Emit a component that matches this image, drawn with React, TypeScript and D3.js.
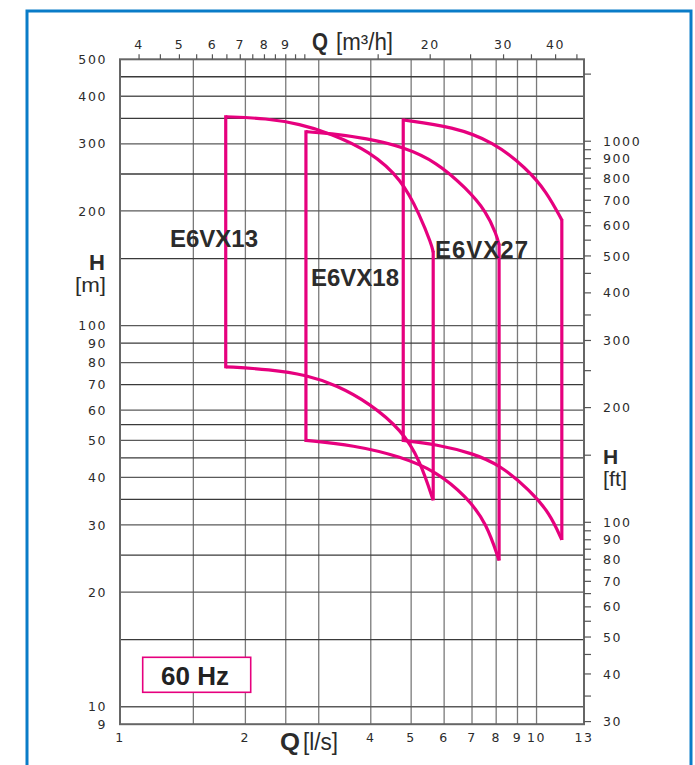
import React from "react";
import * as d3 from "d3";

// ---- Axis data ----
const qGrid = [1.5, 2, 2.5, 3, 4, 5, 6, 7, 8, 9, 10];
const qLabels = [1, 2, 4, 5, 6, 7, 8, 9, 10, 13];
const hGrid = [450, 400, 350, 300, 250, 200, 150, 100, 90, 80, 70, 60, 55, 50, 45, 40, 35, 30, 25, 20, 15, 10];
const hLabels = [500, 400, 300, 200, 100, 90, 80, 70, 60, 50, 40, 30, 20, 10, 9];
const m3hTicks = [4, 4.5, 5, 5.5, 6, 6.5, 7, 7.5, 8, 8.5, 9, 9.5, 10, 15, 20, 25, 30, 35, 40, 45];
const m3hLabels = [4, 5, 6, 7, 8, 9, 20, 30, 40];
const ftTicks = [30, 35, 40, 45, 50, 55, 60, 65, 70, 75, 80, 85, 90, 95, 100, 150, 200, 250, 300, 350, 400, 450, 500, 550, 600, 650, 700, 750, 800, 850, 900, 950, 1000, 1500];
const ftLabels = [30, 40, 50, 60, 70, 80, 90, 100, 200, 300, 400, 500, 600, 700, 800, 900, 1000];

// ---- Pump curves: [Q l/s, H m] ----
const e6vx13Top: [number, number][] = [[1.794, 353.4], [2.249, 350], [2.704, 338], [3.191, 320], [3.981, 287], [4.743, 242.5], [5.248, 195], [5.598, 163], [5.648, 156]];
const e6vx13Bottom: [number, number][] = [[1.794, 78], [2.291, 76.8], [2.806, 74.2], [3.312, 69.8], [3.981, 62.5], [4.743, 53.2], [5.248, 44.4], [5.648, 34.8]];
const e6vx18Top: [number, number][] = [[2.795, 322.8], [3.191, 319.7], [3.909, 310], [4.769, 295], [5.754, 269], [6.792, 229], [7.586, 199], [8.017, 173], [8.13, 163]];
const e6vx18Bottom: [number, number][] = [[2.795, 50], [3.631, 48.6], [4.743, 45.3], [5.754, 41.4], [6.792, 35.6], [7.586, 30.3], [8.13, 24.2]];
const e6vx27Top: [number, number][] = [[4.786, 346.5], [6.309, 332.6], [7.87, 304], [9.462, 258.8], [10.57, 224.6], [11.5, 189.3]];
const e6vx27Bottom: [number, number][] = [[4.786, 50], [5.754, 48.8], [7.046, 46.2], [8.166, 43.1], [9.639, 37], [10.76, 32.2], [11.5, 27.4]];

const pumps = [
  { name: "E6VX13", top: e6vx13Top, bottom: e6vx13Bottom, lx: 170, ly: 247, ls: 0 },
  { name: "E6VX18", top: e6vx18Top, bottom: e6vx18Bottom, lx: 311, ly: 285.5, ls: 0 },
  { name: "E6VX27", top: e6vx27Top, bottom: e6vx27Bottom, lx: 435, ly: 257.5, ls: 1 },
];

const W = 695, H = 765;
const L = 120, R = 584, T = 59.3, B = 724.2;
const PINK = "#e6007e";
const TXT = "#2b2b2b";

export default function App() {
  const x = d3.scaleLog().domain([1, 13]).range([L, R]);
  const y = d3.scaleLog().domain([9, 500]).range([B, T]);
  const xTop = d3.scaleLog().domain([3.6, 13 * 3.6]).range([L, R]);
  const yFt = d3.scaleLog().domain([9 * 3.28084, 500 * 3.28084]).range([B, T]);

  const line = d3
    .line<[number, number]>()
    .x((d) => x(d[0]))
    .y((d) => y(d[1]))
    .curve(d3.curveBasis);

  const tickFont = { fontFamily: "DejaVu Sans, sans-serif", fontSize: 12.5, letterSpacing: 1.6, fill: TXT } as any;

  return (
    <svg width={W} height={H} style={{ position: "absolute", left: 0, top: 0, background: "#fff" }}>
      <rect x={0} y={0} width={W} height={H} fill="#fff" />
      {/* blue frame */}
      <rect x={27} y={11} width={664} height={820} fill="none" stroke="#0a7cc8" strokeWidth={3} />

      {/* grid */}
      {qGrid.map((q) => (
        <line key={"vq" + q} x1={x(q)} x2={x(q)} y1={T} y2={B} stroke="#7a7a7a" strokeWidth={1.3} />
      ))}
      {hGrid.map((h, i) => (
        <line key={"hg" + h} x1={L} x2={R} y1={y(h)} y2={y(h)} stroke={i % 2 === 0 ? "#3a3a3a" : "#5a5a5a"} strokeWidth={1.3} />
      ))}
      {/* border */}
      <rect x={L} y={T} width={R - L} height={B - T} fill="none" stroke="#666" strokeWidth={2} />

      {/* top ticks */}
      {m3hTicks.map((v) => (
        <line key={"tt" + v} x1={xTop(v)} x2={xTop(v)} y1={T} y2={T - 5} stroke="#555" strokeWidth={1.2} />
      ))}
      {m3hLabels.map((v) => (
        <text key={"tl" + v} x={xTop(v)} y={49} textAnchor="middle" {...tickFont}>
          {v}
        </text>
      ))}
      <text x={312} y={50} fontFamily="Liberation Sans, Arial, sans-serif" fontWeight="bold" fontSize={24} fill={TXT} textLength={16} lengthAdjust="spacingAndGlyphs">Q</text>
      <text x={336} y={50} fontFamily="Liberation Sans, Arial, sans-serif" fontSize={23} fill={TXT} textLength={57} lengthAdjust="spacingAndGlyphs">[m³/h]</text>

      {/* right ft ticks */}
      {ftTicks.map((v) => (
        <line key={"ft" + v} x1={R} x2={R + 7} y1={yFt(v)} y2={yFt(v)} stroke="#555" strokeWidth={1.2} />
      ))}
      {ftLabels.map((v) => (
        <text key={"fl" + v} x={603} y={yFt(v) + 4.6} textAnchor="start" {...tickFont}>
          {v}
        </text>
      ))}
      <text x={603} y={463.5} fontFamily="Liberation Sans, Arial, sans-serif" fontWeight="bold" fontSize={21} fill={TXT}>H</text>
      <text x={603} y={486} fontFamily="Liberation Sans, Arial, sans-serif" fontSize={21} fill={TXT} textLength={24} lengthAdjust="spacingAndGlyphs">[ft]</text>

      {/* left labels */}
      {hLabels.map((v) => (
        <text key={"hl" + v} x={107} y={y(v) + 4.6} textAnchor="end" {...tickFont}>
          {v}
        </text>
      ))}
      <text x={105} y={269.5} textAnchor="end" fontFamily="Liberation Sans, Arial, sans-serif" fontWeight="bold" fontSize={22} fill={TXT}>H</text>
      <text x={75} y={292} fontFamily="Liberation Sans, Arial, sans-serif" fontSize={21} fill={TXT} textLength={31} lengthAdjust="spacingAndGlyphs">[m]</text>

      {/* bottom labels */}
      {qLabels.map((v) => (
        <text key={"ql" + v} x={x(v)} y={742} textAnchor="middle" {...tickFont}>
          {v}
        </text>
      ))}
      <text x={280} y={750} fontFamily="Liberation Sans, Arial, sans-serif" fontWeight="bold" fontSize={24} fill={TXT} textLength={20} lengthAdjust="spacingAndGlyphs">Q</text>
      <text x={303} y={750} fontFamily="Liberation Sans, Arial, sans-serif" fontSize={23} fill={TXT} textLength={35} lengthAdjust="spacingAndGlyphs">[l/s]</text>

      {/* pump curves */}
      {pumps.map((p) => {
        const t0 = p.top[0], t1 = p.top[p.top.length - 1];
        const b0 = p.bottom[0], b1 = p.bottom[p.bottom.length - 1];
        return (
          <g key={p.name} fill="none" stroke={PINK} strokeWidth={3.2} strokeLinejoin="miter">
            <path d={line(p.top) || ""} />
            <path d={line(p.bottom) || ""} />
            <line x1={x(b0[0])} x2={x(t0[0])} y1={y(b0[1]) + 1.5} y2={y(t0[1]) - 1.5} />
            <line x1={x(t1[0])} x2={x(b1[0])} y1={y(t1[1]) - 1} y2={y(b1[1])} />
          </g>
        );
      })}
      {pumps.map((p) => (
        <text key={"lab" + p.name} x={p.lx} y={p.ly} fontFamily="Liberation Sans, Arial, sans-serif" fontWeight="bold" fontSize={24} fill={TXT} letterSpacing={p.ls}>
          {p.name}
        </text>
      ))}

      {/* 60 Hz box */}
      <rect x={142.7} y={657.3} width={108} height={35} fill="#fff" stroke={PINK} strokeWidth={1.6} />
      <text x={195} y={685} textAnchor="middle" fontFamily="Liberation Sans, Arial, sans-serif" fontWeight="bold" fontSize={26} fill="#222">60 Hz</text>
    </svg>
  );
}
